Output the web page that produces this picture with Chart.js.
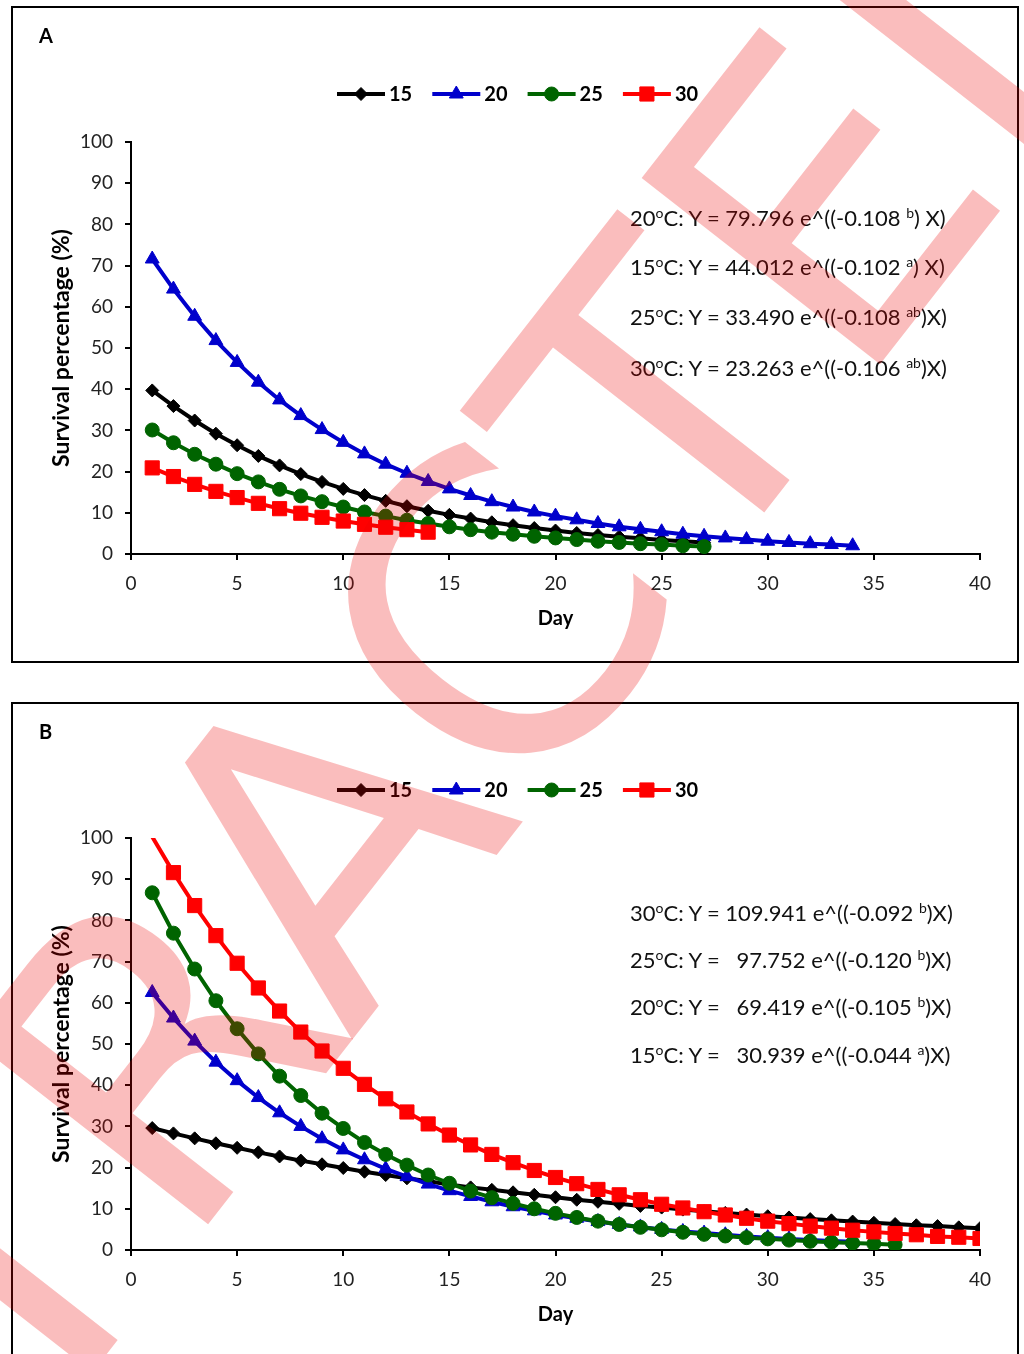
<!DOCTYPE html>
<html>
<head>
<meta charset="utf-8">
<script src="https://cdn.jsdelivr.net/npm/chart.js@4.4.1/dist/chart.umd.min.js"></script>
<style>
  body { margin: 0; background: #fff; width: 1024px; height: 1354px; overflow: hidden; position: relative; font-family: Lato, sans-serif; color: #000; }
  .panel { position: absolute; left: 11px; width: 1004px; border: 2px solid #000; }
  #pa { top: 6px; height: 653px; }
  #pb { top: 702px; height: 700px; }
  .panel canvas { position: absolute; left: 0; top: 0; }
  .tag { position: absolute; left: 26px; font-weight: bold; font-size: 20px; line-height: 24px; }
  .eq { position: absolute; left: 617px; font-size: 22px; line-height: 26px; white-space: pre; color: #111; }
  .s { font-size: 14px; position: relative; top: -8px; }
  #wm { position: absolute; left: 0; top: 0; pointer-events: none; z-index: 5; }
</style>
</head>
<body>
<div class="panel" id="pa">
  <canvas id="chartA" width="1004" height="653"></canvas>
  <div class="tag" style="top:15px">A</div>
  <div class="eq" style="top:197px">20<span class="s">o</span>C: Y = 79.796 e^((-0.108 <span class="s">b</span>) X)</div>
  <div class="eq" style="top:246px">15<span class="s">o</span>C: Y = 44.012 e^((-0.102 <span class="s">a</span>) X)</div>
  <div class="eq" style="top:296px">25<span class="s">o</span>C: Y = 33.490 e^((-0.108 <span class="s">ab</span>)X)</div>
  <div class="eq" style="top:347px">30<span class="s">o</span>C: Y = 23.263 e^((-0.106 <span class="s">ab</span>)X)</div>
</div>
<div class="panel" id="pb">
  <canvas id="chartB" width="1004" height="653"></canvas>
  <div class="tag" style="top:15px">B</div>
  <div class="eq" style="top:196px">30<span class="s">o</span>C: Y = 109.941 e^((-0.092 <span class="s">b</span>)X)</div>
  <div class="eq" style="top:243px">25<span class="s">o</span>C: Y =   97.752 e^((-0.120 <span class="s">b</span>)X)</div>
  <div class="eq" style="top:290px">20<span class="s">o</span>C: Y =   69.419 e^((-0.105 <span class="s">b</span>)X)</div>
  <div class="eq" style="top:338px">15<span class="s">o</span>C: Y =   30.939 e^((-0.044 <span class="s">a</span>)X)</div>
</div>
<svg id="wm" width="1024" height="1354">
  <text x="-312" y="1890" transform="rotate(-52 -312 1890)" font-family="DejaVu Sans" font-size="415" fill="rgb(235,0,0)" fill-opacity="0.26">RETRACTED</text>
</svg>
<script>
// day numbers on the x axis
const days = [1,2,3,4,5,6,7,8,9,10,11,12,13,14,15,16,17,18,19,20,
              21,22,23,24,25,26,27,28,29,30,31,32,33,34,35,36,37,38,39,40];
const seriesLabels = ['15', '20', '25', '30'];
const xTicks = { min: 0, max: 40, step: 5 };
const yTicks = { min: 0, max: 100, step: 10 };

// Panel A: survival (%) per day
const a15 = [39.7,35.9,32.4,29.2,26.4,23.8,21.5,19.4,17.5,15.8,14.3,12.9,11.6,10.5,9.5,8.6,7.7,7.0,6.3,5.7,5.1,4.6,4.2,3.8,3.4,3.1,2.8];
const a20 = [71.6,64.3,57.7,51.8,46.5,41.7,37.4,33.6,30.2,27.1,24.3,21.8,19.6,17.6,15.8,14.2,12.7,11.4,10.2,9.2,8.3,7.4,6.6,6.0,5.4,4.8,4.3,3.9,3.5,3.1,2.8,2.5,2.3,2.0];
const a25 = [30.1,27.0,24.2,21.8,19.5,17.5,15.7,14.1,12.7,11.4,10.2,9.2,8.2,7.4,6.6,5.9,5.3,4.8,4.3,3.9,3.5,3.1,2.8,2.5,2.3,2.0,1.8];
const a30 = [20.9,18.8,16.9,15.2,13.7,12.3,11.0,9.9,8.9,8.0,7.2,6.5,5.9,5.3];

// Panel B: survival (%) per day
const b15 = [29.6,28.3,27.1,25.9,24.8,23.7,22.7,21.7,20.8,19.9,19.0,18.2,17.4,16.7,15.9,15.2,14.6,14.0,13.4,12.8,12.2,11.7,11.2,10.7,10.3,9.8,9.4,9.0,8.6,8.2,7.9,7.5,7.2,6.9,6.6,6.3,6.0,5.8,5.5,5.3];
const b20 = [62.5,56.3,50.7,45.6,41.1,37.0,33.3,30.0,27.0,24.3,21.9,19.7,17.8,16.0,14.4,13.0,11.7,10.5,9.5,8.5,7.7,6.9,6.2,5.6,5.0,4.5,4.1,3.7,3.3,3.0,2.7,2.4,2.2,2.0];
const b25 = [86.7,76.9,68.2,60.5,53.7,47.6,42.2,37.5,33.2,29.5,26.1,23.2,20.6,18.2,16.2,14.3,12.7,11.3,10.0,8.9,7.9,7.0,6.2,5.5,4.9,4.3,3.8,3.4,3.0,2.7,2.4,2.1,1.9,1.7,1.5,1.3];
const b30 = [100.3,91.6,83.6,76.3,69.6,63.6,58.0,52.9,48.3,44.1,40.2,36.7,33.5,30.6,27.9,25.5,23.2,21.2,19.3,17.6,16.1,14.7,13.4,12.2,11.1,10.2,9.3,8.5,7.7,7.0,6.4,5.8,5.3,4.8,4.4,4.0,3.7,3.3,3.1,2.8];

const styles = [
  { color: '#000000', point: 'rectRot', r: 6.5 },
  { color: '#0000CC', point: 'triangle', r: 8 },
  { color: '#006400', point: 'circle', r: 7 },
  { color: '#FF0000', point: 'rect', r: 10 }
];

// line + marker legend, drawn like the spreadsheet one
const lineLegend = {
  id: 'lineLegend',
  afterDraw(chart) {
    const ctx = chart.ctx;
    ctx.save();
    chart.data.datasets.forEach((ds, i) => {
      const x0 = 324 + i * 95.3, y = 86;
      ctx.strokeStyle = ds.borderColor;
      ctx.fillStyle = ds.borderColor;
      ctx.lineWidth = 4;
      ctx.beginPath(); ctx.moveTo(x0, y); ctx.lineTo(x0 + 48, y); ctx.stroke();
      ctx.lineWidth = 1;
      Chart.helpers.drawPoint(ctx, { pointStyle: ds.pointStyle, radius: ds.markerR, borderWidth: 1, rotation: 0 }, x0 + 24, y);
      ctx.fillStyle = '#000';
      ctx.font = 'bold 20px Lato';
      ctx.textBaseline = 'middle';
      ctx.fillText(ds.label, x0 + 52, y + 1);
    });
    ctx.restore();
  }
};

function makeChart(id, series) {
  const datasets = series.map((vals, i) => {
    const st = styles[i];
    return {
      label: seriesLabels[i],
      data: vals.map((v, j) => ({ x: days[j], y: v })),
      borderColor: st.color,
      backgroundColor: st.color,
      borderWidth: 4,
      pointStyle: st.point,
      markerR: st.r,
      pointRadius: c => (c.raw && c.raw.y > yTicks.max) ? 0 : st.r,
      pointBorderWidth: 1,
      pointBackgroundColor: st.color,
      pointBorderColor: st.color,
      tension: 0,
      order: 3 - i
    };
  });

  return new Chart(document.getElementById(id), {
    type: 'line',
    data: { datasets },
    plugins: [lineLegend],
    options: {
      responsive: false,
      animation: false,
      devicePixelRatio: 1,
      layout: { padding: { left: 28, right: 37, top: 134, bottom: 25 } },
      plugins: { legend: { display: false }, tooltip: { enabled: false } },
      scales: {
        x: {
          type: 'linear',
          min: xTicks.min, max: xTicks.max,
          afterFit: s => { s.height = 82; },
          ticks: { stepSize: xTicks.step, color: '#222', font: { family: 'Lato', size: 19 }, padding: 12, maxRotation: 0 },
          grid: { drawOnChartArea: false, drawTicks: true, tickLength: 6, lineWidth: 2, color: '#000' },
          border: { display: true, color: '#000', width: 2 },
          title: { display: true, text: 'Day', color: '#000', font: { family: 'Lato', size: 20, weight: 'bold' }, padding: { top: 0, bottom: 5 } }
        },
        y: {
          min: yTicks.min, max: yTicks.max,
          afterFit: s => { s.width = 90; },
          ticks: { stepSize: yTicks.step, color: '#222', font: { family: 'Lato', size: 19 }, padding: 12 },
          grid: { drawOnChartArea: false, drawTicks: true, tickLength: 6, lineWidth: 2, color: '#000' },
          border: { display: true, color: '#000', width: 2 },
          title: { display: true, text: 'Survival percentage (%)', color: '#000', font: { family: 'Lato', size: 23, weight: 'bold' }, padding: { top: 7, bottom: 0 } }
        }
      }
    }
  });
}

makeChart('chartA', [a15, a20, a25, a30]);
makeChart('chartB', [b15, b20, b25, b30]);
</script>
</body>
</html>
